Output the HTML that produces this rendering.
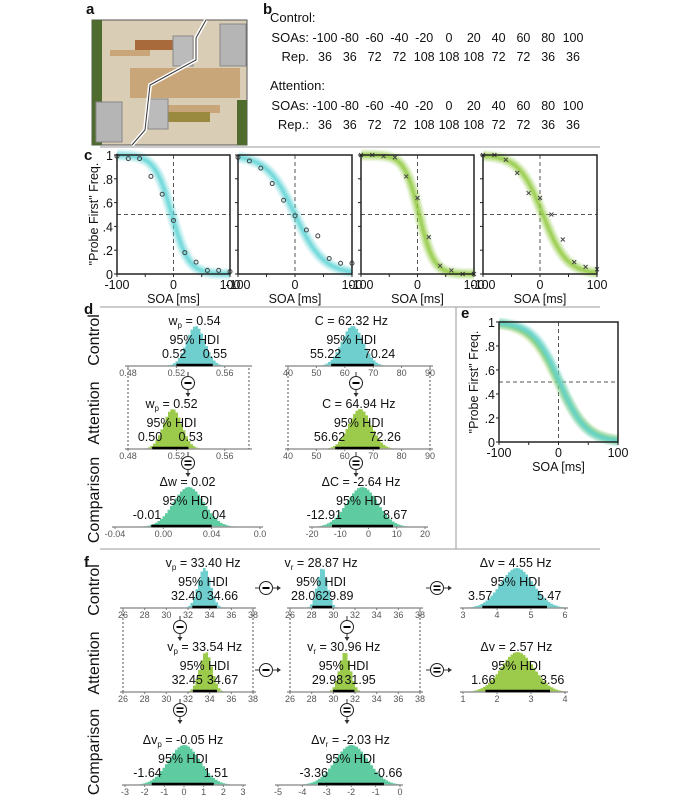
<!DOCTYPE html>
<html><head><meta charset="utf-8"><style>
html,body{margin:0;padding:0;background:#fff;}
svg{display:block;font-family:"Liberation Sans",Arial,sans-serif;}
</style></head><body>
<svg id="fig" width="700" height="808" viewBox="0 0 700 808" xmlns="http://www.w3.org/2000/svg"></svg>
<script>
// ---------- data ----------
const soaX=[-100,-80,-60,-40,-20,0,20,40,60,80,100];
const c1Vals=[0.99,0.97,0.97,0.82,0.67,0.45,0.18,0.10,0.03,0.03,0.02];
const c2Vals=[0.98,0.95,0.89,0.76,0.62,0.49,0.37,0.32,0.13,0.09,0.09];
const c3Vals=[1.00,1.00,0.99,0.98,0.82,0.64,0.31,0.07,0.03,0.00,0.00];
const c4Vals=[1.00,1.00,0.96,0.85,0.68,0.64,0.50,0.29,0.10,0.06,0.04];
const curveMu=[-3,0,3,5];
const curveScale=[15,25,13,21];
const eMu=[0,2];
const eScale=[24,22];
const yTickVals=[0,0.2,0.4,0.6,0.8,1];
const yTickLabels=["0",".2",".4",".6",".8","1"];
const xTickVals=[-100,0,100];
const histMeans=[0.535,62.32,0.516,64.94,0.02,-2.64,33.40,28.87,4.55,33.54,30.96,2.57,-0.05,-2.03];
const histLo=[0.52,55.22,0.50,56.62,-0.01,-12.91,32.40,28.06,3.57,32.45,29.98,1.66,-1.64,-3.36];
const histHi=[0.55,70.24,0.53,72.26,0.04,8.67,34.66,29.89,5.47,34.67,31.95,3.56,1.51,-0.66];
const histTitles=["w<tspan font-size='8' dy='3'>p</tspan><tspan dy='-3'> = 0.54</tspan>","C = 62.32 Hz","w<tspan font-size='8' dy='3'>p</tspan><tspan dy='-3'> = 0.52</tspan>","C = 64.94 Hz","Δw = 0.02","ΔC = -2.64 Hz",
"v<tspan font-size='8' dy='3'>p</tspan><tspan dy='-3'> = 33.40 Hz</tspan>","v<tspan font-size='8' dy='3'>r</tspan><tspan dy='-3'> = 28.87 Hz</tspan>","Δv = 4.55 Hz",
"v<tspan font-size='8' dy='3'>p</tspan><tspan dy='-3'> = 33.54 Hz</tspan>","v<tspan font-size='8' dy='3'>r</tspan><tspan dy='-3'> = 30.96 Hz</tspan>","Δv = 2.57 Hz",
"Δv<tspan font-size='8' dy='3'>p</tspan><tspan dy='-3'> = -0.05 Hz</tspan>","Δv<tspan font-size='8' dy='3'>r</tspan><tspan dy='-3'> = -2.03 Hz</tspan>"];
const histLoLabels=["0.52","55.22","0.50","56.62","-0.01","-12.91","32.40","28.06","3.57","32.45","29.98","1.66","-1.64","-3.36"];
const histHiLabels=["0.55","70.24","0.53","72.26","0.04","8.67","34.66","29.89","5.47","34.67","31.95","3.56","1.51","-0.66"];
const histMin=[0.48,40,0.48,40,-0.04,-20,26,26,3,26,26,1,-3,-5];
const histMax=[0.58,90,0.58,90,0.08,20,38,38,6,38,38,4,3,0];
const histTicks=[[0.48,0.52,0.56],[40,50,60,70,80,90],[0.48,0.52,0.56],[40,50,60,70,80,90],[-0.04,0,0.04,0.08],[-20,-10,0,10,20],
[26,28,30,32,34,36,38],[26,28,30,32,34,36,38],[3,4,5,6],[26,28,30,32,34,36,38],[26,28,30,32,34,36,38],[1,2,3,4],[-3,-2,-1,0,1,2,3],[-5,-4,-3,-2,-1,0]];
const histTickLabels=[["0.48","0.52","0.56"],["40","50","60","70","80","90"],["0.48","0.52","0.56"],["40","50","60","70","80","90"],["-0.04","0.00","0.04","0.0"],["-20","-10","0","10","20"],
["26","28","30","32","34","36","38"],["26","28","30","32","34","36","38"],["3","4","5","6"],["26","28","30","32","34","36","38"],["26","28","30","32","34","36","38"],["1","2","3","4"],["-3","-2","-1","0","1","2","3"],["-5","-4","-3","-2","-1","0"]];
// layout (pixels)
const histX0=[128,288,128,288,115,312,123,290,463,123,290,463,125,278];
const histX1=[249,430,249,430,260,425,253,420,565,253,420,565,243,400];
const histY=[366,366,449,449,527,527,608,608,608,692,692,692,785,785];
const histColor=["#6fcfcf","#6fcfcf","#9ccb4c","#9ccb4c","#5ecba0","#5ecba0","#6fcfcf","#6fcfcf","#6fcfcf","#9ccb4c","#9ccb4c","#9ccb4c","#5ecba0","#5ecba0"];

const NS='http://www.w3.org/2000/svg';
const svg=document.getElementById('fig');
function mk(tag,attrs,parent){const e=document.createElementNS(NS,tag);for(const k in attrs)e.setAttribute(k,attrs[k]);(parent||svg).appendChild(e);return e;}
function txt(x,y,s,size,anchor,parent){const t=mk('text',{x:x,y:y,'font-size':size,'text-anchor':anchor||'middle',fill:'#111'},parent);t.innerHTML=s;return t;}

// ---------- separators ----------
[[100,147,600,147],[100,307,600,307],[100,549,600,549],[456,307,456,549]].forEach(function(l){
  const s=mk('line',{x1:l[0],y1:l[1],x2:l[2],y2:l[3],stroke:'#999','stroke-width':1});
  
  
});

// ---------- panel labels ----------
[["a",86,14],["b",263,14],["c",84,160],["d",84,314],["e",461,318],["f",84,567]].forEach(function(p){
  const t=txt(p[1],p[2],p[0],15,'start');t.setAttribute('font-weight','bold');
  
  
});

// ---------- panel a photo ----------
const photo=mk('g',{});


mk('rect',{x:92,y:20,width:155,height:125,fill:'#d9cdb6',stroke:'#555','stroke-width':1},photo);
mk('rect',{x:92,y:20,width:10,height:125,fill:'#4f6b2e'},photo);
mk('rect',{x:237,y:100,width:10,height:45,fill:'#4f6b2e'},photo);
mk('rect',{x:130,y:68,width:110,height:30,fill:'#c9a57a'},photo);
mk('rect',{x:110,y:50,width:40,height:6,fill:'#c9a57a'},photo);
mk('rect',{x:150,y:105,width:70,height:8,fill:'#c9a57a'},photo);
mk('rect',{x:135,y:40,width:40,height:10,fill:'#a86a3a'},photo);
mk('rect',{x:165,y:112,width:45,height:10,fill:'#9a8a40'},photo);
mk('rect',{x:173,y:36,width:20,height:30,fill:'#bbb',stroke:'#888'},photo);
mk('rect',{x:148,y:99,width:20,height:30,fill:'#bbb',stroke:'#888'},photo);
mk('rect',{x:220,y:24,width:26,height:42,fill:'#b5b5b5',stroke:'#888'},photo);
mk('rect',{x:96,y:102,width:26,height:40,fill:'#b5b5b5',stroke:'#888'},photo);
mk('polyline',{points:'206,20 196,38 196,60 150,85 145,130 132,145',fill:'none',stroke:'#fff','stroke-width':4},photo);
mk('polyline',{points:'206,20 196,38 196,60 150,85 145,130 132,145',fill:'none',stroke:'#333','stroke-width':1},photo);

// ---------- panel b table ----------
function tableBlock(y,title,repLabel,reps){
  const g=mk('g',{});
  
  
  txt(270,y,title,13,'start',g);
  txt(309,y+20,'SOAs:',13,'end',g);
  txt(309,y+39,repLabel,13,'end',g);
  soaX.forEach(function(v,i){txt(325+i*24.8,y+20,String(v),12.5,'middle',g);txt(325+i*24.8,y+39,String(reps[i]),12.5,'middle',g);});
}
const repCounts=[36,36,72,72,108,108,108,72,72,36,36];
tableBlock(22,'Control:','Rep.',repCounts);
tableBlock(90,'Attention:','Rep.:',repCounts);

// ---------- sigmoid band ----------
function band(g,xs,ys,mu,s,color){
  const pts=[];
  for(let v=-100;v<=100;v+=2){const p=1/(1+Math.exp((v-mu)/s));pts.push(xs(v).toFixed(1)+','+ys(p).toFixed(1));}
  [[12,0.15],[9,0.25],[6,0.35],[3,0.6]].forEach(function(w){
    mk('polyline',{points:pts.join(' '),fill:'none',stroke:color,'stroke-width':w[0],'stroke-opacity':w[1],'stroke-linecap':'butt'},g);
  });
}
function psyAxes(g,x0,x1,y0,y1){
  const xs=function(v){return x0+(v+100)/200*(x1-x0);};
  const ys=function(p){return y1-p*(y1-y0);};
  mk('line',{x1:xs(0),y1:y0,x2:xs(0),y2:y1,stroke:'#555','stroke-dasharray':'4,3','stroke-width':1},g);
  mk('line',{x1:x0,y1:ys(0.5),x2:x1,y2:ys(0.5),stroke:'#555','stroke-dasharray':'4,3','stroke-width':1},g);
  return {xs:xs,ys:ys};
}
function psyFrame(g,x0,x1,y0,y1,showYLabels){
  const xs=function(v){return x0+(v+100)/200*(x1-x0);};
  const ys=function(p){return y1-p*(y1-y0);};
  mk('rect',{x:x0,y:y0,width:x1-x0,height:y1-y0,fill:'none',stroke:'#222','stroke-width':1.5},g);
  [-100,-50,0,50,100].forEach(function(v){mk('line',{x1:xs(v),y1:y1,x2:xs(v),y2:y1+3,stroke:'#222'},g);});
  xTickVals.forEach(function(v){txt(xs(v),y1+15,String(v),12.5,'middle',g);});
  txt((x0+x1)/2,y1+29,'SOA [ms]',12.5,'middle',g);
  yTickVals.forEach(function(v,i){mk('line',{x1:x0-3,y1:ys(v),x2:x0,y2:ys(v),stroke:'#222'},g);
    if(showYLabels) txt(x0-4,ys(v)+5,yTickLabels[i],12.5,'end',g);});
}
const cBoxes=[[117,230],[238,352],[361,474],[483,597]];
const cVals=[c1Vals,c2Vals,c3Vals,c4Vals];
const cColors=['#5fd3d6','#5fd3d6','#8fc83c','#8fc83c'];
cBoxes.forEach(function(b,k){
  const g=mk('g',{});
  
  
  const a=psyAxes(g,b[0],b[1],155,274);
  band(g,a.xs,a.ys,curveMu[k],curveScale[k],cColors[k]);
  cVals[k].forEach(function(v,i){
    const cx=a.xs(soaX[i]),cy=a.ys(v);
    let m;
    if(k<2){m=mk('circle',{cx:cx,cy:cy,r:2,fill:'none',stroke:'#444','stroke-width':1},g);}
    else{m=mk('path',{d:'M'+(cx-2)+','+(cy-2)+'L'+(cx+2)+','+(cy+2)+'M'+(cx-2)+','+(cy+2)+'L'+(cx+2)+','+(cy-2),stroke:'#444','stroke-width':1},g);}
    
    
  });
  psyFrame(g,b[0],b[1],155,274,k===0);
});
const cyl=txt(0,0,'"Probe First" Freq.',12.5,'middle');
cyl.setAttribute('transform','translate(98,214) rotate(-90)');



// panel e
(function(){
  const g=mk('g',{});
  
  
  const a=psyAxes(g,499,618,322,442);
  band(g,a.xs,a.ys,eMu[0],eScale[0],'#8fc83c');
  band(g,a.xs,a.ys,eMu[1],eScale[1],'#5fd3d6');
  psyFrame(g,499,618,322,442,true);
  const t=txt(0,0,'"Probe First" Freq.',12.5,'middle',g);
  t.setAttribute('transform','translate(478,382) rotate(-90)');
})();

// ---------- row labels ----------
[["Control",340],["Attention",413],["Comparison",500],["Control",590],["Attention",663],["Comparison",752]].forEach(function(r){
  const t=txt(0,0,r[0],16,'middle');
  t.setAttribute('transform','translate(99,'+r[1]+') rotate(-90)');
  
  
});

// ---------- histograms ----------
histMeans.forEach(function(mean,i){
  const g=mk('g',{});
  
  
  const x0=histX0[i],x1=histX1[i],y=histY[i];
  const xs=function(v){return x0+(v-histMin[i])/(histMax[i]-histMin[i])*(x1-x0);};
  const sd=(histHi[i]-histLo[i])/3.92;
  let d='M'+x0+','+y;
  const step=2.5;
  for(let px=x0;px<=x1;px+=step){
    const v=histMin[i]+(px-x0)/(x1-x0)*(histMax[i]-histMin[i]);
    const h=40*Math.exp(-0.5*Math.pow((v-mean)/sd,2));
    d+=' L'+px.toFixed(1)+','+(y-h).toFixed(1)+' L'+(px+step).toFixed(1)+','+(y-h).toFixed(1);
  }
  d+=' L'+x1+','+y+' Z';
  mk('path',{d:d,fill:histColor[i],stroke:'none'},g);
  mk('line',{x1:x0-3,y1:y,x2:x1+3,y2:y,stroke:'#999','stroke-width':1.5},g);
  mk('line',{x1:xs(histLo[i]),y1:y-1,x2:xs(histHi[i]),y2:y-1,stroke:'#000','stroke-width':2.5},g);
  histTicks[i].forEach(function(v,j){
    mk('line',{x1:xs(v),y1:y,x2:xs(v),y2:y+2,stroke:'#777'},g);
    txt(xs(v),y+10,histTickLabels[i][j],9,'middle',g).setAttribute('fill','#555');
  });
  const mx=xs(mean);
  txt(mx,y-41,histTitles[i],12.5,'middle',g);
  txt(mx,y-22,'95% HDI',12.5,'middle',g);
  txt(xs(histLo[i])+10,y-8,histLoLabels[i],12.5,'end',g);
  txt(xs(histHi[i])-10,y-8,histHiLabels[i],12.5,'start',g);
});

// ---------- dotted boxes ----------
[[128,368,249,449],[288,368,430,449],[123,610,253,692],[290,610,420,692]].forEach(function(b){
  const g=mk('g',{});
  
  
  mk('line',{x1:b[0],y1:b[1],x2:b[0],y2:b[3],stroke:'#555','stroke-dasharray':'2,2'},g);
  mk('line',{x1:b[2],y1:b[1],x2:b[2],y2:b[3],stroke:'#555','stroke-dasharray':'2,2'},g);
});

// ---------- operator symbols ----------
function opSym(cx,cy,type,vertical){
  const g=mk('g',{});
  
  
  if(vertical){
    mk('line',{x1:cx,y1:cy-11,x2:cx,y2:cy+10,stroke:'#333'},g);
    mk('path',{d:'M'+(cx-2.5)+','+(cy+10)+' L'+(cx+2.5)+','+(cy+10)+' L'+cx+','+(cy+14)+' Z',fill:'#333'},g);
  }else{
    mk('line',{x1:cx-11,y1:cy,x2:cx+11,y2:cy,stroke:'#333'},g);
    mk('path',{d:'M'+(cx+11)+','+(cy-2.5)+' L'+(cx+11)+','+(cy+2.5)+' L'+(cx+15)+','+cy+' Z',fill:'#333'},g);
  }
  mk('circle',{cx:cx,cy:cy,r:6.5,fill:'#fff',stroke:'#222','stroke-width':1},g);
  if(type==='-'){mk('line',{x1:cx-3.5,y1:cy,x2:cx+3.5,y2:cy,stroke:'#000','stroke-width':2},g);}
  else{mk('line',{x1:cx-3.5,y1:cy-1.8,x2:cx+3.5,y2:cy-1.8,stroke:'#000','stroke-width':1.6},g);
       mk('line',{x1:cx-3.5,y1:cy+1.8,x2:cx+3.5,y2:cy+1.8,stroke:'#000','stroke-width':1.6},g);}
}
opSym(188,383,'-',true);opSym(356,383,'-',true);
opSym(188,463,'=',true);opSym(356,463,'=',true);
opSym(180,627,'-',true);opSym(347,627,'-',true);
opSym(180,710,'=',true);opSym(347,710,'=',true);
opSym(266,588,'-',false);opSym(437,588,'=',false);
opSym(266,670,'-',false);opSym(437,670,'=',false);
</script>
</body></html>
